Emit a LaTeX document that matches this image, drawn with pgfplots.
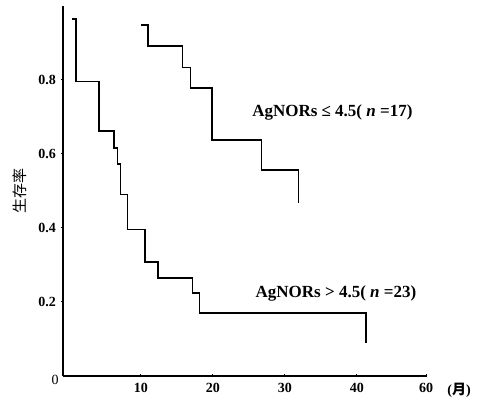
\documentclass[border=0pt]{standalone}
\usepackage{fontspec}
\setmainfont{Liberation Serif}
\newfontfamily\cjk{Noto Sans CJK SC}
\usepackage{pgfplots}
\pgfplotsset{compat=1.18}
\begin{document}
\begin{tikzpicture}
\begin{axis}[name=ax,
  scale only axis, width=363pt, height=370pt,
  xmin=-0.8, xmax=49.6, ymin=0, ymax=1.0,
  axis lines=left,
  axis line style={-, line width=1.3pt},
  clip=false,
  xtick={10,20,30,40,49.6},
  xticklabels={10,20,30,40,60},
  ytick={0.2,0.4,0.6,0.8},
  yticklabels={0.2,0.4,0.6,0.8},
  tick align=center, major tick length=3pt,
  tick style={line width=1pt, black},
  /pgf/number format/assume math mode=true,
  ticklabel style={font=\fontsize{14}{16}\selectfont\bfseries},
  xticklabel style={yshift=-2pt},
  yticklabel style={xshift=-2pt},
]
\addplot[const plot, line width=1.3pt, black] coordinates {
 (0.4,0.965) (1.0,0.795) (4.2,0.662) (6.3,0.616) (6.8,0.573) (7.2,0.49) (8.2,0.395)
 (10.6,0.308) (12.4,0.265) (17.2,0.224) (18.2,0.17) (41.25,0.17) (41.25,0.09)};
\addplot[const plot, line width=1.3pt, black] coordinates {
 (10.0,0.949) (11.0,0.892) (15.8,0.833) (16.9,0.778) (19.9,0.638) (26.8,0.557) (31.9,0.557) (31.9,0.468)};
\node[font=\fontsize{17}{19}\selectfont\bfseries] at (axis cs:36.6,0.711) {AgNORs ≤ 4.5( \textit{n} =17)};
\node[font=\fontsize{17}{19}\selectfont\bfseries] at (axis cs:37.1,0.224) {AgNORs > 4.5( \textit{n} =23)};
\node[font=\fontsize{14}{16}\selectfont\bfseries] at (axis cs:54.2,-0.04) {({\cjk 月})};
\node[font=\fontsize{14}{16}\selectfont, anchor=east] at (axis cs:-0.9,-0.01) {0};
\end{axis}
\node[rotate=90, font=\fontsize{15}{17}\selectfont\cjk] at ([xshift=-43pt,yshift=185pt]ax.south west) {生存率};
\path[use as bounding box] ([xshift=-63pt,yshift=-25pt]ax.south west) rectangle ([xshift=57pt,yshift=6pt]ax.north east);
\end{tikzpicture}
\end{document}
